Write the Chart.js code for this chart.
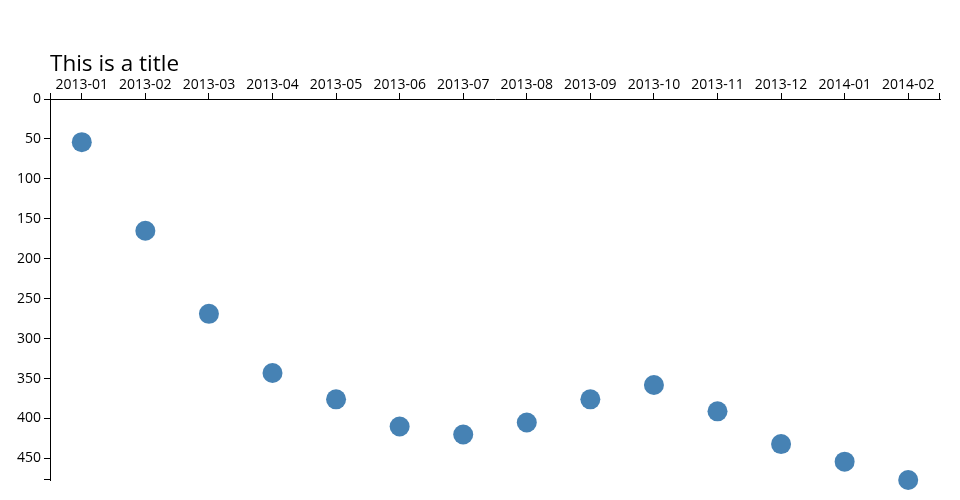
<!DOCTYPE html>
<html>
<head>
<meta charset="utf-8">
<script src="https://cdn.jsdelivr.net/npm/chart.js@4.4.1/dist/chart.umd.min.js"></script>
<style>
  html, body { margin: 0; padding: 0; background: #fff; }
</style>
</head>
<body>
<canvas id="chart" width="960" height="500"></canvas>
<script>
// DATA
const months = ['2013-01', '2013-02', '2013-03', '2013-04', '2013-05', '2013-06', '2013-07',
                '2013-08', '2013-09', '2013-10', '2013-11', '2013-12', '2014-01', '2014-02'];
const values = [54, 165, 269, 343, 376, 410, 420, 405, 376, 358, 391, 432, 454, 477];
const yTickValues = [0, 50, 100, 150, 200, 250, 300, 350, 400, 450];
const yMax = 477;
const titleText = 'This is a title';

const FONT = "'Open Sans', 'DejaVu Sans', sans-serif";

// title + end ticks of the axis lines (d3 style)
const axisExtras = {
    id: 'axisExtras',
    afterDraw(chart) {
        const c = chart.ctx;
        const a = chart.chartArea;
        c.save();
        c.strokeStyle = '#000';
        c.lineWidth = 1;
        c.beginPath();
        c.moveTo(a.left + 0.5, a.top - 6);
        c.lineTo(a.left + 0.5, a.top);
        c.moveTo(a.right - 0.5, a.top - 6);
        c.lineTo(a.right - 0.5, a.top);
        c.moveTo(a.left - 6, a.bottom - 0.5);
        c.lineTo(a.left, a.bottom - 0.5);
        c.stroke();

        c.fillStyle = '#000';
        c.font = '22.5px ' + FONT;
        c.textAlign = 'left';
        c.textBaseline = 'alphabetic';
        c.fillText(titleText, a.left, 71);
        c.restore();
    }
};

const ctx = document.getElementById('chart').getContext('2d');
new Chart(ctx, {
    type: 'line',
    data: {
        labels: months,
        datasets: [{
            data: values,
            showLine: false,
            pointRadius: 10,
            pointHoverRadius: 10,
            pointBackgroundColor: '#4682b4',
            pointBorderWidth: 0,
            borderColor: '#4682b4',
            clip: false
        }]
    },
    options: {
        responsive: false,
        animation: false,
        devicePixelRatio: 1,
        layout: { padding: { left: 0, right: 20, top: 0, bottom: 20 } },
        plugins: { legend: { display: false }, tooltip: { enabled: false } },
        scales: {
            x: {
                position: 'top',
                offset: true,
                grid: { display: true, drawOnChartArea: false, drawTicks: true, tickLength: 6, color: '#000', offset: false },
                border: { display: true, color: '#000', width: 1 },
                ticks: { color: '#000', font: { family: FONT, size: 14 }, padding: 0, maxRotation: 0, autoSkip: false },
                afterFit(scale) { scale.height = 99; }
            },
            y: {
                reverse: true,
                min: 0,
                max: yMax,
                grid: { display: true, drawOnChartArea: false, drawTicks: true, tickLength: 6, color: '#000' },
                border: { display: true, color: '#000', width: 1 },
                ticks: { color: '#000', font: { family: FONT, size: 14 }, padding: 3 },
                afterBuildTicks(scale) { scale.ticks = yTickValues.map(v => ({ value: v })); },
                afterFit(scale) { scale.width = 50; }
            }
        }
    },
    plugins: [axisExtras]
});
</script>
</body>
</html>
